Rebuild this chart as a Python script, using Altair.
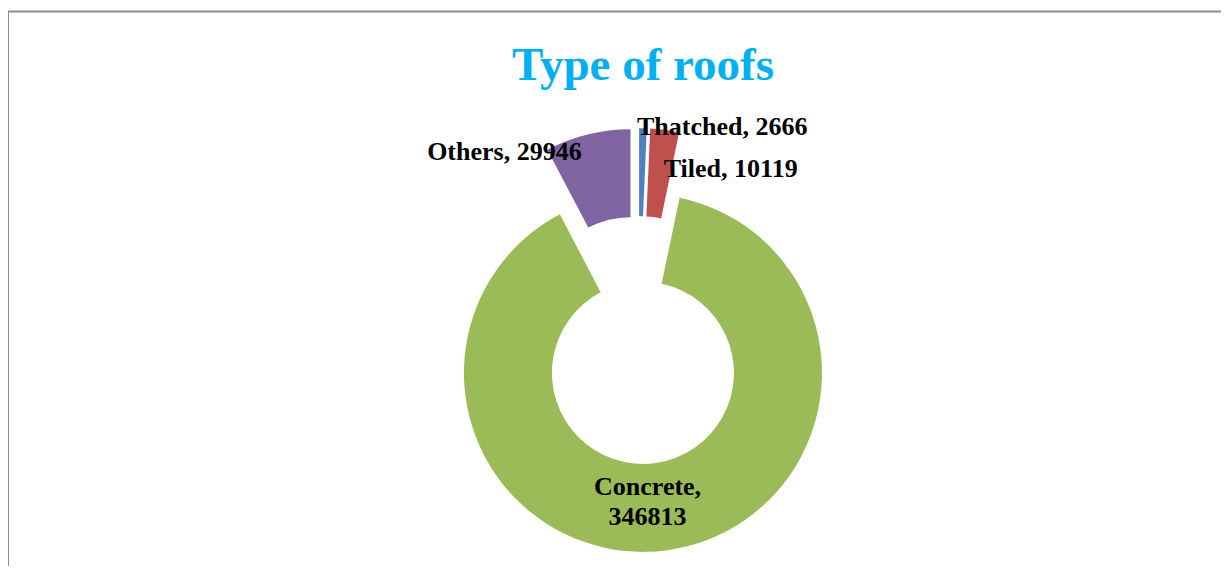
import altair as alt
import pandas as pd

# ---- data ----
categories = ["Thatched", "Tiled", "Concrete", "Others"]
values = [2666, 10119, 346813, 29946]
colors = ["#4F81BD", "#C0504D", "#9BBB59", "#8064A2"]
title_text = "Type of roofs"

# ---- layout ----
W, H = 1213, 558
CX, CY = 630.4, 332.2
R_OUT, R_IN = 179, 91
EXPLODE = 33
FONT = "Liberation Serif"
nudge_x = {"Thatched": -6, "Tiled": -1, "Concrete": -14, "Others": -6}
nudge_y = {"Thatched": 7, "Tiled": 47, "Concrete": -12, "Others": 26}


def lookup(d):
    expr = "0"
    for k, v in reversed(list(d.items())):
        expr = f"datum.category=='{k}' ? {v} : ({expr})"
    return expr


df = pd.DataFrame({"category": categories, "value": values})

base = (
    alt.Chart(df)
    .transform_window(idx="row_number()")
    .transform_joinaggregate(total="sum(value)", vmax="max(value)")
    .transform_window(cum="sum(value)", sort=[alt.SortField("idx")], frame=[None, 0])
    .transform_calculate(
        a0="2*PI*(datum.cum-datum.value)/datum.total",
        a1="2*PI*datum.cum/datum.total",
        inside="datum.value == datum.vmax",
    )
    .transform_calculate(am="(datum.a0+datum.a1)/2")
    .transform_calculate(
        cx=f"{CX}+{EXPLODE}*sin(datum.am)",
        cy=f"{CY}-{EXPLODE}*cos(datum.am)",
        lr=f"datum.inside ? {(R_OUT + R_IN) / 2} : {R_OUT}",
        label="datum.category + ',' + (datum.inside ? '\\n' : ' ') + datum.value",
    )
    .transform_calculate(
        lx=f"datum.cx + datum.lr*sin(datum.am) + ({lookup(nudge_x)})",
        ly=f"datum.cy - datum.lr*cos(datum.am) + ({lookup(nudge_y)})",
    )
)

arcs = base.mark_arc(outerRadius=R_OUT, innerRadius=R_IN).encode(
    x=alt.X("cx:Q", scale=None, axis=None),
    y=alt.Y("cy:Q", scale=None, axis=None),
    theta=alt.Theta("a0:Q", scale=None, stack=None),
    theta2="a1:Q",
    color=alt.Color("category:N", scale=alt.Scale(domain=categories, range=colors), legend=None),
)

txt_style = dict(font=FONT, fontSize=26, fontWeight="bold", color="black", baseline="alphabetic")
txt_enc = dict(
    x=alt.X("lx:Q", scale=None, axis=None),
    y=alt.Y("ly:Q", scale=None, axis=None),
    text="label:N",
)

lab_left = base.transform_filter("!datum.inside && datum.am < PI").mark_text(align="left", **txt_style).encode(**txt_enc)
lab_right = base.transform_filter("!datum.inside && datum.am >= PI").mark_text(align="right", **txt_style).encode(**txt_enc)
lab_center = base.transform_filter("datum.inside").mark_text(
    align="center", lineBreak="\n", lineHeight=30, **txt_style
).encode(**txt_enc)

title = alt.Chart(alt.Data(values=[{"t": title_text}])).mark_text(
    font=FONT, fontSize=47, fontWeight="bold", color="#00B0F0", align="center", baseline="alphabetic"
).encode(text="t:N", x=alt.value(635), y=alt.value(72))

frame_top = alt.Chart(alt.Data(values=[{"a": 1}])).mark_rule(color="#8c8c8c", strokeWidth=2).encode(
    x=alt.value(0), x2=alt.value(W), y=alt.value(3.5)
)
frame_left = alt.Chart(alt.Data(values=[{"a": 1}])).mark_rule(color="#8c8c8c", strokeWidth=2).encode(
    x=alt.value(0), y=alt.value(3.5), y2=alt.value(H)
)

chart = (
    alt.layer(frame_top, frame_left, arcs, lab_left, lab_right, lab_center, title)
    .properties(width=W, height=H, autosize=alt.AutoSizeParams(type="none"), padding=0)
    .configure_view(stroke=None)
)

chart.save("out.html", embed_options={"renderer": "svg", "actions": False})
